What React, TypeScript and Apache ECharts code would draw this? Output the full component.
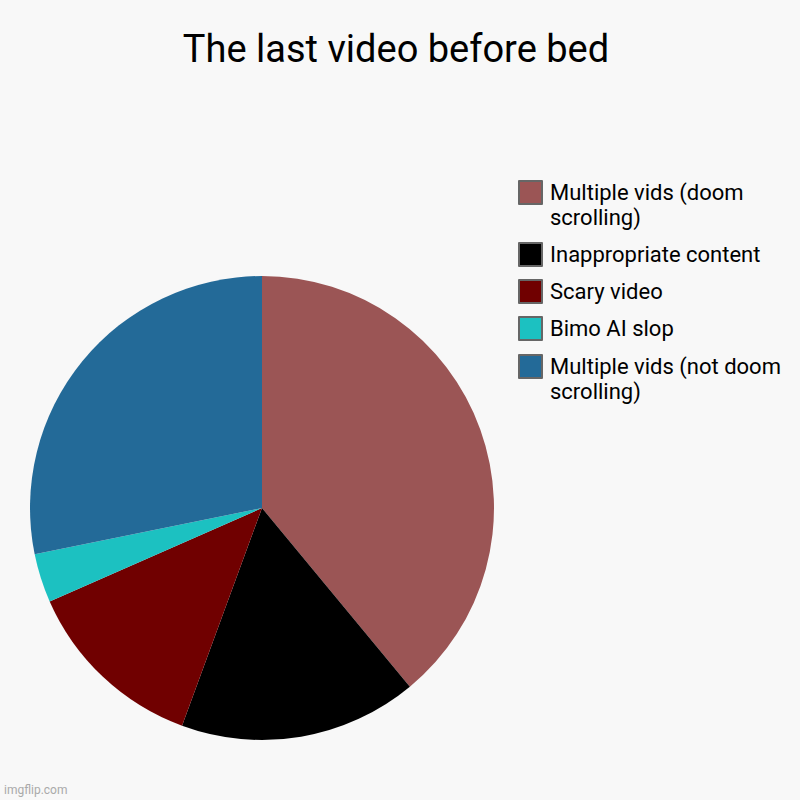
import React, { useEffect, useRef } from 'react';
import * as echarts from 'echarts';

const categories = [
  'Multiple vids (doom scrolling)',
  'Inappropriate content',
  'Scary video',
  'Bimo AI slop',
  'Multiple vids (not doom scrolling)',
];
const legendLabels = [
  'Multiple vids (doom\nscrolling)',
  'Inappropriate content',
  'Scary video',
  'Bimo AI slop',
  'Multiple vids (not doom\nscrolling)',
];
const values = [39, 16.6, 12.8, 3.4, 28.2];
const colors = ['#9b5555', '#000000', '#700000', '#1cc1c1', '#236a98'];

// a leading empty line pushes the wrapped text down so its first line sits beside the box
const legendText = (name: string) => {
  const label = legendLabels[categories.indexOf(name)];
  return label.includes('\n') ? '\n' + label : label;
};

const legendBase = {
  orient: 'vertical' as const,
  left: 518,
  padding: 0,
  itemWidth: 23,
  itemHeight: 23,
  itemGap: 12,
  selectedMode: false,
  icon: 'rect',
  itemStyle: { borderColor: '#666', borderWidth: 2 },
  textStyle: { fontSize: 22, lineHeight: 25, color: '#000', fontFamily: 'Roboto', padding: [0, 0, 0, 3] },
  formatter: legendText,
};

const App: React.FC = () => {
  const chartRef = useRef<HTMLDivElement>(null);

  useEffect(() => {
    document.body.style.margin = '0';
    if (!chartRef.current) return;

    const chart = echarts.init(chartRef.current, undefined, { renderer: 'svg' });

    const options: echarts.EChartsOption = {
      animation: false,
      backgroundColor: '#f8f8f8',
      textStyle: { fontFamily: 'Roboto' },
      title: {
        text: 'The last video before bed',
        left: 391,
        top: 25,
        textAlign: 'center',
        textStyle: { fontSize: 38, fontWeight: 'normal', color: '#000', fontFamily: 'Roboto' },
      },
      legend: [
        { ...legendBase, top: 155, data: categories.slice(0, 4) },
        { ...legendBase, top: 329, data: categories.slice(4) },
      ],
      graphic: [
        {
          type: 'text',
          left: 4,
          top: 784,
          style: { text: 'imgflip.com', fontSize: 12, fill: '#aaa', fontFamily: 'Roboto' },
        },
      ],
      series: [
        {
          name: 'The last video before bed',
          type: 'pie',
          center: [262, 508],
          radius: 232,
          startAngle: 90,
          clockwise: true,
          label: { show: false },
          labelLine: { show: false },
          emphasis: { disabled: true },
          data: categories.map((name, i) => ({
            name,
            value: values[i],
            itemStyle: { color: colors[i] },
          })),
        },
      ],
    };

    chart.setOption(options);

    return () => {
      chart.dispose();
    };
  }, []);

  return <div ref={chartRef} style={{ width: 800, height: 800 }} />;
};

export default App;
